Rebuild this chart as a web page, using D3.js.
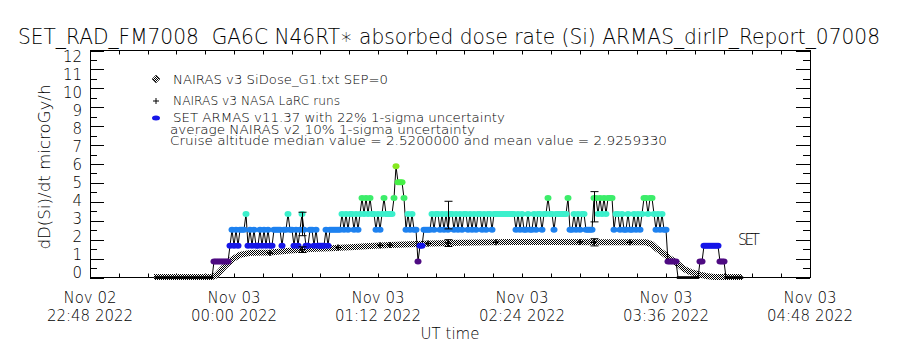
<!DOCTYPE html>
<html>
<head>
<meta charset="utf-8">
<script src="https://cdn.jsdelivr.net/npm/d3@7"></script>
<style>
body { margin: 0; background: #fff; }
text { font-family: "DejaVu Sans", sans-serif; font-weight: 200; fill: #000; white-space: pre; }
</style>
</head>
<body>
<div id="chart"></div>
<script>
// chart text
const titleText = "SET_RAD_FM7008  GA6C N46RT\u2217 absorbed dose rate (Si) ARMAS_dirIP_Report_07008";
const yTitle = "dD(Si)/dt microGy/h";
const xTitle = "UT time";
const legendLines = [
    "NAIRAS v3 SiDose_G1.txt SEP=0",
    "NAIRAS v3 NASA LaRC runs",
    "SET ARMAS v11.37 with 22% 1-sigma uncertainty",
    "average NAIRAS v2 10% 1-sigma uncertainty",
    "Cruise altitude median value = 2.5200000 and mean value = 2.9259330"
];

// axis ticks
const xMajorTicks = ["2022-11-02T22:48", "2022-11-03T00:00", "2022-11-03T01:12",
                     "2022-11-03T02:24", "2022-11-03T03:36", "2022-11-03T04:48"];
const yMajorTicks = [0, 1, 2, 3, 4, 5, 6, 7, 8, 9, 10, 11, 12];

// NAIRAS v3 SiDose_G1 model (time, microGy/h)
const modelTimes = ["23:20", "23:49", "23:51", "23:55", "23:59", "00:03", "00:08", "00:18", "00:28",
                    "00:38", "00:48", "00:58", "01:08", "01:18", "01:28", "01:38", "01:53", "02:08",
                    "02:38", "03:08", "03:26", "03:29", "03:31", "03:35", "03:38", "03:41", "03:45",
                    "03:48", "03:53", "03:56", "04:00", "04:14"];
const modelValues = [0.03, 0.03, 0.1, 0.55, 0.95, 1.2, 1.3, 1.32, 1.42,
                     1.5, 1.55, 1.6, 1.66, 1.72, 1.76, 1.8, 1.84, 1.87,
                     1.88, 1.87, 1.86, 1.75, 1.55, 1.25, 1.0, 0.8, 0.45,
                     0.3, 0.15, 0.08, 0.03, 0.03];

// NAIRAS v3 NASA LaRC runs
const larcTimes = ["00:18", "00:34", "00:52", "01:13", "01:18", "01:37", "01:47", "02:11", "02:53", "03:00", "03:18"];
const larcValues = [1.3, 1.47, 1.58, 1.7, 1.72, 1.8, 1.82, 1.87, 1.88, 1.87, 1.86];

// averaged comparison points with 1-sigma bars
const errTimes = ["00:34", "01:47", "03:00"];
const errArmas = [2.83, 3.3, 3.74];
const errArmasSigma = [0.62, 0.73, 0.8];
const errModel = [1.47, 1.82, 1.86];
const errModelSigma = [0.15, 0.18, 0.19];

// SET ARMAS one-minute dose rates starting 23:21
const armasStart = "23:21";
const armasValues = [
    0,0,0,0,0,0,0,0,0,0,0,0,0,0,0,0,0,0,0,0,0,0,0,0,0,0,0,0,0,
    0.84,0.84,0.84,0.84,0.84,0.84,0.84,0.84,
    1.68,2.52,1.68,2.52,1.68,2.52,2.52,2.52,3.36,
    1.68,2.52,1.68,2.52,1.68,1.68,2.52,1.68,2.52,1.68,2.52,1.68,1.68,2.52,2.52,
    2.52,2.52,1.68,2.52,2.52,3.36,2.52,2.52,1.68,2.52,1.68,2.52,3.36,2.52,1.68,1.68,2.52,
    2.52,1.68,2.52,1.68,1.68,1.68,1.68,2.52,1.68,2.52,
    2.52,2.52,2.52,2.52,2.52,
    3.36,2.52,3.36,2.52,3.36,3.36,2.52,3.36,2.52,3.36,
    4.2,3.36,4.2,3.36,4.2,3.36,
    3.36,2.52,3.36,2.52,3.36,4.2,3.36,3.36,3.36,3.36,4.2,
    5.88,5.04,5.04,5.04,4.2,
    2.52,3.36,2.52,3.36,2.52,2.52,0.84,1.68,1.68,
    2.52,2.52,2.52,2.52,3.36,2.52,
    3.36,3.36,2.52,3.36,2.52,3.36,2.52,3.36,3.36,2.52,3.36,2.52,3.36,2.52,3.36,
    3.36,2.52,3.36,2.52,3.36,2.52,3.36,3.36,2.52,3.36,2.52,3.36,3.36,2.52,
    3.36,3.36,3.36,3.36,3.36,3.36,3.36,3.36,3.36,3.36,
    3.36,2.52,3.36,2.52,3.36,2.52,2.52,3.36,2.52,
    2.52,3.36,2.52,3.36,3.36,2.52,3.36,3.36,4.2,
    3.36,3.36,2.52,3.36,3.36,3.36,3.36,3.36,3.36,4.2,
    2.52,2.52,3.36,2.52,3.36,2.52,3.36,3.36,2.52,2.52,2.52,2.52,
    4.2,4.2,3.36,4.2,3.36,4.2,3.36,4.2,4.2,4.2,
    2.52,3.36,3.36,2.52,3.36,2.52,2.52,3.36,2.52,2.52,3.36,
    2.52,3.36,2.52,3.36,4.2,4.2,3.36,4.2,4.2,
    3.36,2.52,3.36,2.52,3.36,2.52,2.52,
    0.84,0.84,0.84,0.84,0.84,
    0,0,0,0,0,0,0,0,0,0,0,
    0.84,0.84,1.68,1.68,1.68,1.68,1.68,1.68,1.68,1.68,0.84,0.84,0.84,
    0,0,0,0,0,0,0,0,0
];

// colour bands of the dose-rate levels
const levelBreaks = [0.42, 1.26, 2.1, 2.94, 3.78, 4.62, 5.46];
const levelColors = ["#000000", "#4e0b82", "#1616e8", "#1e82f0", "#3cf0cc", "#3ced6a", "#46f046", "#86e81e"];

const width = 900, height = 350;
const plotLeft = 90, plotRight = 810, plotTop = 50.5, plotBottom = 277.5;

const toDate = t => {
    if (t.length > 5) return new Date(t + ":00Z");
    const day = +t.slice(0, 2) >= 12 ? "02" : "03";
    return new Date(`2022-11-${day}T${t}:00Z`);
};

const x = d3.scaleUtc()
    .domain([toDate(xMajorTicks[0]), toDate(xMajorTicks[xMajorTicks.length - 1])])
    .range([plotLeft, plotRight]);
const y = d3.scaleLinear().domain([0, 12]).range([plotBottom, plotTop]);
// tick labels sit on a slightly tighter scale than the ticks, as in the original output
const yLabel = d3.scaleLinear().domain([0, 12]).range([277.5, 61.5]);
const colour = d3.scaleThreshold().domain(levelBreaks).range(levelColors);

const svg = d3.select('#chart').append('svg')
    .attr('width', width)
    .attr('height', height)
    .style('background', '#fff');

// checker pattern used for the dense NAIRAS diamonds
const pat = svg.append('defs').append('pattern')
    .attr('id', 'checker')
    .attr('patternUnits', 'userSpaceOnUse')
    .attr('width', 2).attr('height', 2);
pat.append('rect').attr('width', 2).attr('height', 2).attr('fill', '#fff');
pat.append('rect').attr('width', 1).attr('height', 1).attr('fill', '#000');
pat.append('rect').attr('x', 1).attr('y', 1).attr('width', 1).attr('height', 1).attr('fill', '#000');

// title
svg.append('text')
    .attr('x', 18).attr('y', 44)
    .attr('font-size', 22)
    .attr('textLength', 862)
    .attr('lengthAdjust', 'spacingAndGlyphs')
    .text(titleText);

// frame and ticks
const axisG = svg.append('g').attr('stroke', '#000').attr('stroke-width', 1).attr('fill', 'none');
axisG.append('rect')
    .attr('x', plotLeft + 0.5).attr('y', plotTop)
    .attr('width', plotRight - plotLeft).attr('height', plotBottom - plotTop);

const xMajor = xMajorTicks.map(toDate);
const xMinor = [];
for (let i = 0; i < xMajor.length - 1; i++) {
    const step = (xMajor[i + 1] - xMajor[i]) / 5;
    for (let k = 1; k < 5; k++) xMinor.push(new Date(+xMajor[i] + k * step));
}
xMajor.concat(xMinor).forEach(d => {
    const px = Math.round(x(d)) + 0.5;
    axisG.append('line').attr('x1', px).attr('x2', px).attr('y1', plotBottom).attr('y2', plotBottom - 4);
    axisG.append('line').attr('x1', px).attr('x2', px).attr('y1', plotTop).attr('y2', plotTop + 4);
});

yMajorTicks.forEach(v => {
    const py = Math.round(y(v)) + 0.5;
    axisG.append('line').attr('x1', plotLeft).attr('x2', plotLeft + 14).attr('y1', py).attr('y2', py);
    axisG.append('line').attr('x1', plotRight).attr('x2', plotRight - 14).attr('y1', py).attr('y2', py);
    if (v < 12) {
        const ph = Math.round(y(v + 0.5)) + 0.5;
        axisG.append('line').attr('x1', plotLeft).attr('x2', plotLeft + 7).attr('y1', ph).attr('y2', ph);
        axisG.append('line').attr('x1', plotRight).attr('x2', plotRight - 7).attr('y1', ph).attr('y2', ph);
    }
});

// y labels
svg.append('g').selectAll('text')
    .data(yMajorTicks)
    .enter().append('text')
    .attr('x', 82)
    .attr('y', d => yLabel(d))
    .attr('text-anchor', 'end')
    .attr('font-size', 15)
    .text(d => d);

// x labels (two lines)
const fmtDay = d3.utcFormat('%b %d');
const fmtTime = d3.utcFormat('%H:%M %Y');
const xl = svg.append('g').selectAll('g')
    .data(xMajor)
    .enter().append('g');
xl.append('text')
    .attr('x', d => x(d)).attr('y', 303)
    .attr('text-anchor', 'middle').attr('font-size', 15)
    .text(fmtDay);
xl.append('text')
    .attr('x', d => x(d)).attr('y', 321)
    .attr('text-anchor', 'middle').attr('font-size', 15)
    .text(fmtTime);

svg.append('text')
    .attr('x', 450).attr('y', 339)
    .attr('text-anchor', 'middle').attr('font-size', 15)
    .text(xTitle);

svg.append('text')
    .attr('transform', 'translate(50,167) rotate(-90)')
    .attr('text-anchor', 'middle').attr('font-size', 16)
    .attr('textLength', 165).attr('lengthAdjust', 'spacingAndGlyphs')
    .text(yTitle);

// plot content
const plot = svg.append('g');

// NAIRAS model band
const model = modelTimes.map((t, i) => ({ t: toDate(t), v: modelValues[i] }));
plot.append('path')
    .datum(model)
    .attr('d', d3.line().x(d => x(d.t)).y(d => y(d.v)))
    .attr('fill', 'none')
    .attr('stroke', 'url(#checker)')
    .attr('stroke-width', 6);

// ARMAS line + markers
const t0 = toDate(armasStart);
const armas = armasValues.map((v, i) => ({ t: new Date(+t0 + i * 60000), v }));
plot.append('path')
    .datum(armas)
    .attr('d', d3.line().x(d => x(d.t)).y(d => y(d.v)))
    .attr('fill', 'none')
    .attr('stroke', '#000')
    .attr('stroke-width', 1);

plot.append('g').selectAll('ellipse')
    .data(armas)
    .enter().append('ellipse')
    .attr('cx', d => x(d.t))
    .attr('cy', d => y(d.v))
    .attr('rx', d => d.v > 0 ? 3.5 : 1.5)
    .attr('ry', d => d.v > 0 ? 3 : 1.5)
    .attr('fill', d => colour(d.v));

// LaRC crosses
const larc = larcTimes.map((t, i) => ({ t: toDate(t), v: larcValues[i] }));
plot.append('g').selectAll('path')
    .data(larc)
    .enter().append('path')
    .attr('d', d => `M${x(d.t) - 3},${y(d.v)}h6M${x(d.t)},${y(d.v) - 3}v6`)
    .attr('stroke', '#000').attr('stroke-width', 1.5);

// error bars
const errs = errTimes.map((t, i) => ({
    t: toDate(t), a: errArmas[i], as: errArmasSigma[i], m: errModel[i], ms: errModelSigma[i]
}));
const eb = plot.append('g').attr('stroke', '#000').attr('stroke-width', 1).attr('fill', 'none');
errs.forEach(d => {
    const px = Math.round(x(d.t)) + 0.5;
    [[d.a - d.as, d.a + d.as], [d.m - d.ms, d.m + d.ms]].forEach(([lo, hi]) => {
        eb.append('path')
            .attr('d', `M${px},${y(lo)}V${y(hi)}M${px - 4},${y(lo)}h8M${px - 4},${y(hi)}h8`);
    });
});

// legend
const lg = svg.append('g');
lg.append('path')
    .attr('d', 'M156,75l4,4l-4,4l-4,-4z')
    .attr('fill', 'url(#checker)').attr('stroke', '#555');
lg.append('path')
    .attr('d', 'M153,101h6M156,98v6')
    .attr('stroke', '#000');
lg.append('ellipse')
    .attr('cx', 156).attr('cy', 118).attr('rx', 4).attr('ry', 2.5)
    .attr('fill', '#1616e8');

const legendY = [84, 105, 122, 134, 145];
const legendX = [173, 173, 173, 170, 170];
const legendW = [215, 167, 332, 305, 497];
lg.selectAll('text.leg')
    .data(legendLines)
    .enter().append('text')
    .attr('class', 'leg')
    .attr('x', (d, i) => legendX[i])
    .attr('y', (d, i) => legendY[i])
    .attr('font-size', 13)
    .attr('textLength', (d, i) => legendW[i])
    .attr('lengthAdjust', 'spacingAndGlyphs')
    .text(d => d);

svg.append('text')
    .attr('x', 738).attr('y', 245)
    .attr('font-size', 15)
    .attr('textLength', 22)
    .text('SET');
</script>
</body>
</html>
